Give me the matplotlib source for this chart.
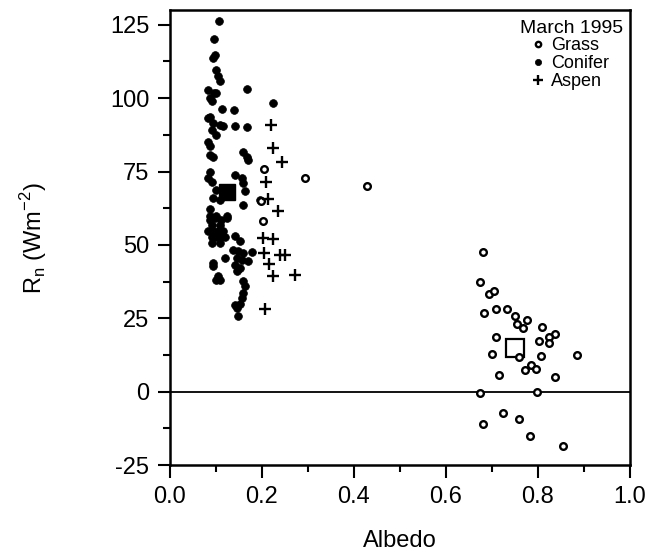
import matplotlib
matplotlib.use('Agg')
import matplotlib.pyplot as plt
from matplotlib.ticker import MultipleLocator, FormatStrFormatter

plt.rcParams['font.family'] = ['Liberation Sans', 'DejaVu Sans']
plt.rcParams['axes.unicode_minus'] = False

# grass (open circles)
grass_x = [0.680, 0.674, 0.693, 0.705, 0.683, 0.710, 0.732, 0.750, 0.777, 0.754,
           0.767, 0.810, 0.837, 0.825, 0.825, 0.803, 0.709, 0.701, 0.759, 0.807,
           0.884, 0.785, 0.772, 0.795, 0.716, 0.838, 0.675, 0.799, 0.725, 0.758,
           0.680, 0.783, 0.854,
           0.204, 0.293, 0.199, 0.203, 0.428]
grass_y = [47.6, 37.4, 33.3, 34.4, 26.8, 28.2, 28.2, 25.9, 24.3, 23.2,
           21.8, 21.9, 19.8, 18.8, 16.6, 17.1, 18.8, 12.8, 11.8, 12.0,
           12.5, 9.2, 7.5, 7.8, 5.7, 4.9, -0.6, 0.0, -7.3, -9.2,
           -11.0, -15.1, -18.5,
           76.0, 72.8, 65.1, 58.0, 70.2]

# conifer (filled dots)
conifer_x = [0.107, 0.096, 0.097, 0.094, 0.101, 0.105, 0.109, 0.083, 0.096, 0.087,
             0.101, 0.091, 0.168, 0.223, 0.114, 0.140, 0.087,
             0.083, 0.094, 0.109, 0.116, 0.091, 0.141, 0.167, 0.101, 0.083, 0.088,
             0.088, 0.094, 0.159, 0.167, 0.170, 0.087, 0.083, 0.091, 0.141, 0.156,
             0.159, 0.101, 0.094, 0.109, 0.163, 0.159, 0.087, 0.196, 0.087, 0.101,
             0.123,
             0.087, 0.098, 0.112, 0.123, 0.091, 0.109, 0.083, 0.094, 0.105, 0.116,
             0.091, 0.101, 0.112, 0.120, 0.091, 0.109, 0.141, 0.152, 0.138, 0.148,
             0.159, 0.178, 0.120, 0.145, 0.156, 0.170, 0.094, 0.094, 0.141, 0.152,
             0.145, 0.105, 0.109, 0.101, 0.159, 0.163, 0.159, 0.156, 0.141, 0.152,
             0.145, 0.148]
conifer_y = [126.4, 120.2, 114.8, 113.6, 109.7, 107.6, 105.7, 102.9, 101.7, 100.0,
             101.7, 98.9, 103.2, 98.5, 96.4, 95.8, 93.6,
             93.2, 91.5, 90.9, 90.4, 89.2, 90.6, 90.2, 87.5, 84.9, 83.8,
             80.7, 79.9, 81.8, 80.1, 79.0, 75.0, 72.8, 71.6, 73.9, 72.8,
             71.1, 68.8, 66.0, 65.4, 68.2, 63.7, 62.2, 65.4, 59.7, 59.7,
             59.7,
             58.6, 59.1, 58.6, 59.1, 56.9, 56.9, 54.8, 54.8, 54.8, 54.8,
             52.8, 52.8, 52.8, 52.8, 50.6, 50.6, 52.9, 51.2, 48.4, 47.8,
             47.2, 47.6, 45.5, 45.5, 45.0, 44.4, 43.8, 42.7, 43.3, 42.1,
             41.0, 39.3, 38.1, 37.9, 37.6, 35.9, 33.6, 31.9, 29.6, 29.9,
             28.5, 25.9]

# aspen (+)
aspen_x = [0.220, 0.225, 0.243, 0.209, 0.214, 0.235, 0.203, 0.225, 0.204, 0.239,
           0.250, 0.215, 0.223, 0.272, 0.207]
aspen_y = [90.7, 83.0, 78.1, 71.4, 65.6, 61.6, 52.3, 52.1, 47.2, 46.4,
           46.4, 43.5, 39.3, 39.9, 28.3]

# means
grass_mean = (0.751, 14.9)
conifer_mean = (0.123, 68.0)

fig = plt.figure(figsize=(6.5, 5.59), dpi=100)
ax = fig.add_axes([0.2615, 0.168, 0.7075, 0.814])

ax.axhline(0, color='black', lw=1.3, zorder=1)

ax.plot(conifer_x, conifer_y, 'o', ms=5.6, mfc='black', mec='black', mew=0.5,
        ls='none', label='Conifer', zorder=3)
ax.plot(grass_x, grass_y, 'o', ms=4.8, mfc='white', mec='black', mew=1.7,
        ls='none', label='Grass', zorder=4)
ax.plot(aspen_x, aspen_y, '+', ms=8.5, mec='black', mew=1.7,
        ls='none', label='Aspen', zorder=4)

ax.plot([grass_mean[0]], [grass_mean[1]], 's', ms=13, mfc='none', mec='black',
        mew=1.6, zorder=2)
ax.plot([conifer_mean[0]], [conifer_mean[1]], 's', ms=12, mfc='black',
        mec='black', zorder=3)

ax.set_xlim(0, 1.0)
ax.set_ylim(-25, 130)
ax.xaxis.set_major_locator(MultipleLocator(0.2))
ax.xaxis.set_minor_locator(MultipleLocator(0.1))
ax.yaxis.set_major_locator(MultipleLocator(25))
ax.yaxis.set_minor_locator(MultipleLocator(12.5))
ax.xaxis.set_major_formatter(FormatStrFormatter('%.1f'))

ax.tick_params(which='major', direction='out', length=9, width=1.5, labelsize=17, pad=6)
ax.tick_params(which='minor', direction='out', length=5, width=1.5)
for s in ax.spines.values():
    s.set_linewidth(1.8)

ax.set_xlabel('Albedo', fontsize=17, labelpad=16)
ax.set_ylabel('R$_\\mathregular{n}$ (Wm$^\\mathregular{-2}$)', fontsize=17, labelpad=44)

handles, labels = ax.get_legend_handles_labels()
order = [labels.index('Grass'), labels.index('Conifer'), labels.index('Aspen')]
ax.text(0.985, 0.978, 'March 1995', transform=ax.transAxes, ha='right', va='top',
        fontsize=14)
leg = ax.legend([handles[i] for i in order], [labels[i] for i in order],
                loc='upper left', bbox_to_anchor=(0.77, 0.956), frameon=False,
                fontsize=13, handlelength=0.7, handletextpad=0.4,
                labelspacing=0.05, markerscale=0.8, borderaxespad=0.0)

fig.savefig('out.png', dpi=100)
